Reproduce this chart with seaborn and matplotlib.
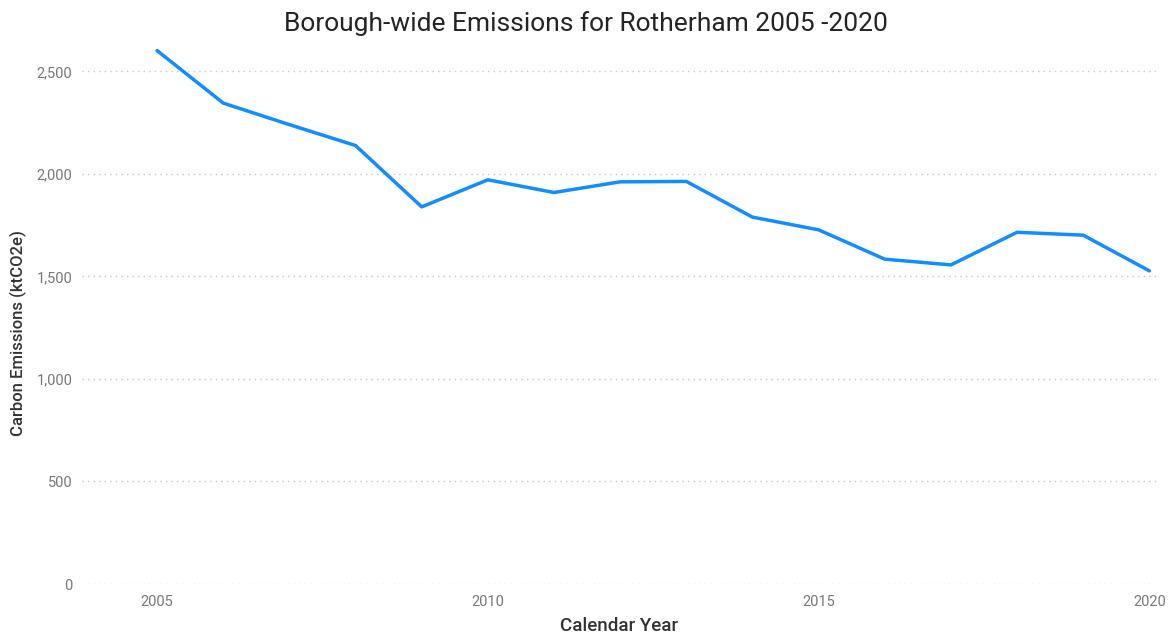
import matplotlib
matplotlib.use("Agg")
import matplotlib.pyplot as plt
import seaborn as sns
import pandas as pd
from matplotlib.ticker import FuncFormatter, FixedLocator

years = [2005, 2006, 2007, 2008, 2009, 2010, 2011, 2012, 2013, 2014, 2015, 2016, 2017, 2018, 2019, 2020]
emissions = [2601, 2345, 2240, 2138, 1839, 1971, 1909, 1961, 1963, 1789, 1727, 1584, 1556, 1715, 1701, 1527]
y_ticks = [0, 500, 1000, 1500, 2000, 2500]
x_ticks = [2005, 2010, 2015, 2020]

title = "Borough-wide Emissions for Rotherham 2005 -2020"
x_label = "Calendar Year"
y_label = "Carbon Emissions (ktCO2e)"

sns.set_theme(style="white")
plt.rcParams['font.family'] = ['Roboto', 'DejaVu Sans']

df = pd.DataFrame({"year": years, "emissions": emissions})

fig = plt.figure(figsize=(11.75, 6.35), dpi=100)
ax = fig.add_axes([0.0698, 0.0803, 0.914, 0.872])

sns.lineplot(data=df, x="year", y="emissions", ax=ax, color="#118DFF", linewidth=2.5)

ax.set_xlim(2003.865, 2020.1)
ax.set_ylim(0, 2700)
ax.yaxis.set_major_locator(FixedLocator(y_ticks))
ax.xaxis.set_major_locator(FixedLocator(x_ticks))
ax.yaxis.set_major_formatter(FuncFormatter(lambda v, p: f"{int(v):,}"))
ax.xaxis.set_major_formatter(FuncFormatter(lambda v, p: f"{int(v)}"))

ax.grid(axis="y", color="#c8c8c8", linestyle=(0, (1, 3)), linewidth=1)
ax.grid(axis="x", visible=False)
for s in ax.spines.values():
    s.set_visible(False)
ax.tick_params(axis="both", length=0, labelsize=10.5, labelcolor="#777777")
ax.tick_params(axis="y", pad=7)
ax.tick_params(axis="x", pad=8)

ax.set_xlabel(x_label, fontsize=13.5, color="#333333", fontweight="medium", labelpad=6)
ax.set_ylabel(y_label, fontsize=12, color="#333333", fontweight="medium")
ax.yaxis.set_label_coords(-0.0512, 0.453)
fig.text(0.499, 0.963, title, ha="center", va="center", fontsize=19, color="#252423")

fig.savefig("out.png", dpi=100, facecolor="white")
